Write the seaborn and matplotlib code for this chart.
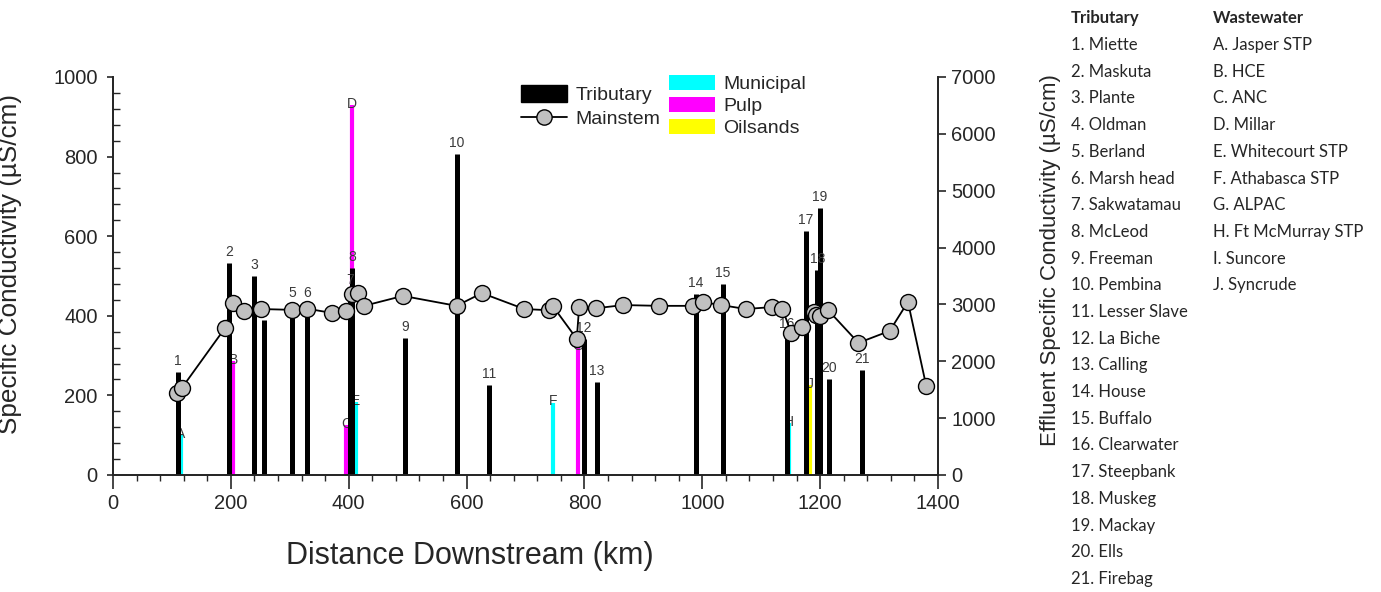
import matplotlib
matplotlib.use("Agg")
import matplotlib.pyplot as plt
from matplotlib.lines import Line2D
from matplotlib.patches import Patch
from matplotlib.ticker import MultipleLocator
import numpy as np
import pandas as pd
import seaborn as sns

# Mainstem specific conductivity (uS/cm) along the river
main_km = [109, 117, 190, 204, 222, 251, 303, 329, 372, 395, 406, 416, 426, 492,
           583, 626, 698, 740, 746, 787, 791, 820, 866, 927, 985, 1002, 1032, 1074,
           1119, 1136, 1151, 1169, 1189, 1193, 1200, 1213, 1265, 1318, 1349, 1380]
main_cond = [206, 219, 369, 432, 412, 417, 415, 418, 407, 412, 455, 457, 425, 450,
             425, 457, 417, 414, 425, 342, 422, 419, 427, 425, 425, 434, 427, 417,
             422, 417, 357, 372, 410, 402, 400, 415, 332, 362, 435, 224]

# Tributary conductivity (uS/cm) at confluence distance
trib_ids = [str(i) for i in range(1, 22)]
trib_km = [110, 197, 239, 256, 304, 329, 403, 406, 496, 584, 638, 799, 821, 989,
           1035, 1144, 1176, 1195, 1199, 1215, 1271]
trib_cond = [259, 533, 500, 389, 430, 430, 462, 520, 344, 806, 226, 342, 234, 455,
             480, 352, 613, 515, 671, 241, 264]
trib_names = ["Miette", "Maskuta", "Plante", "Oldman", "Berland", "Marsh head",
              "Sakwatamau", "McLeod", "Freeman", "Pembina", "Lesser Slave",
              "La Biche", "Calling", "House", "Buffalo", "Clearwater", "Steepbank",
              "Muskeg", "Mackay", "Ells", "Firebag"]

# Wastewater effluent conductivity (uS/cm, right axis)
eff_ids = ["A", "B", "C", "D", "E", "F", "G", "H", "I", "J"]
eff_km = [115, 204, 396, 406, 412, 747, 789, 1147, 1178, 1183]
eff_cond = [700, 2000, 880, 6500, 1280, 1270, 2250, 910, 1170, 1580]
eff_type = ["Municipal", "Pulp", "Pulp", "Pulp", "Municipal", "Municipal", "Pulp",
            "Municipal", "Oilsands", "Oilsands"]
eff_names = ["Jasper STP", "HCE", "ANC", "Millar", "Whitecourt STP",
             "Athabasca STP", "ALPAC", "Ft McMurray STP", "Suncore", "Syncrude"]

type_colors = {"Municipal": "#00FFFF", "Pulp": "#FF00FF", "Oilsands": "#FFFF00"}

sns.set_theme(style="ticks")
plt.rcParams["font.family"] = ["Liberation Sans", "DejaVu Sans"]

fig = plt.figure(figsize=(13.81, 5.92), dpi=100)
ax = fig.add_axes([113 / 1381, 117 / 592, 825 / 1381, 398 / 592])
ax2 = ax.twinx()
ax.set_zorder(ax2.get_zorder() + 1)
ax.patch.set_visible(False)

ax.set_xlim(0, 1400)
ax.set_ylim(0, 1000)
ax2.set_ylim(0, 7000)

label_color = "#3a3a3a"

# Effluent bars on the right axis
for k, v, t, lab in zip(eff_km, eff_cond, eff_type, eff_ids):
    ax2.vlines(k, 0, v, colors=type_colors[t], linewidth=3.0, zorder=2)
    ax2.annotate(lab, (k, v), xytext=(0, -4), textcoords="offset points",
                 ha="center", va="bottom", fontsize=10, color=label_color, zorder=3)

# Tributary bars on the left axis
for k, v, lab in zip(trib_km, trib_cond, trib_ids):
    ax.vlines(k, 0, v, colors="black", linewidth=3.6, zorder=2)
    ax.annotate(lab, (k, v), xytext=(0, 3), textcoords="offset points",
                ha="center", va="bottom", fontsize=10, color=label_color, zorder=3)

# Mainstem profile
main_df = pd.DataFrame({"km": main_km, "cond": main_cond})
sns.lineplot(data=main_df, x="km", y="cond", ax=ax, color="black", linewidth=1.3,
             marker="o", markersize=11.5, markerfacecolor="#C0C0C0",
             markeredgecolor="black", markeredgewidth=1.0, sort=False, zorder=4)

# Axes styling
ax.spines["top"].set_visible(False)
ax2.spines["top"].set_visible(False)
for sp in ["left", "bottom", "right"]:
    ax.spines[sp].set_linewidth(1.3)
    ax2.spines[sp].set_linewidth(1.3)

ax.xaxis.set_major_locator(MultipleLocator(200))
ax.xaxis.set_minor_locator(MultipleLocator(40))
ax.yaxis.set_major_locator(MultipleLocator(200))
ax.yaxis.set_minor_locator(MultipleLocator(40))
ax2.yaxis.set_major_locator(MultipleLocator(1000))

tick_size = 14.5
ax.tick_params(axis="x", which="major", direction="out", length=10, width=1.2,
               labelsize=tick_size, pad=4)
ax.tick_params(axis="x", which="minor", direction="out", length=4, width=1.0)
ax.tick_params(axis="y", which="major", direction="out", length=4, width=1.2,
               labelsize=tick_size, pad=7)
ax.tick_params(axis="y", which="minor", direction="in", length=5, width=1.0)
ax2.tick_params(axis="y", which="major", direction="out", length=6, width=1.2,
                labelsize=tick_size)

ax.set_xlabel("Distance Downstream (km)", fontsize=22)
ax.xaxis.set_label_coords((470 - 113) / 825, -0.165)
ax.set_ylabel("Specific Conductivity (\u00b5S/cm)", fontsize=18.8)
ax.yaxis.set_label_coords((22 - 113) / 825, 0.53)
ax2.set_ylabel("Effluent Specific Conductivity (\u00b5S/cm)", fontsize=16)
ax2.yaxis.set_label_coords((1040 - 113) / 825, 0.54)

# Legends
h1 = [Patch(facecolor="black", edgecolor="black", label="Tributary"),
      Line2D([0], [0], color="black", linewidth=1.3, marker="o", markersize=11,
             markerfacecolor="#C0C0C0", markeredgecolor="black", label="Mainstem")]
leg1 = ax.legend(handles=h1, loc="upper left",
                 bbox_to_anchor=((513 - 113) / 825, 1.0), frameon=False,
                 fontsize=14, handlelength=2.4, handleheight=1.0,
                 handletextpad=0.4, labelspacing=0.25, borderaxespad=0)
ax.add_artist(leg1)
h2 = [Patch(facecolor=type_colors[t], edgecolor="none", label=t)
      for t in ["Municipal", "Pulp", "Oilsands"]]
ax.legend(handles=h2, loc="upper left",
          bbox_to_anchor=((661 - 113) / 825, 1.025), frameon=False,
          fontsize=14, handlelength=2.4, handleheight=0.8,
          handletextpad=0.4, labelspacing=0.2, borderaxespad=0)

# Site key
key_font = ["Lato", "DejaVu Sans"]
key_size = 12
fig.text(1071 / 1381, 1 - 18 / 592, "Tributary", fontsize=key_size, fontweight="bold",
         family=key_font, va="center", ha="left")
fig.text(1213 / 1381, 1 - 18 / 592, "Wastewater", fontsize=key_size, fontweight="bold",
         family=key_font, va="center", ha="left")
for i, (n, name) in enumerate(zip(trib_ids, trib_names)):
    fig.text(1071 / 1381, 1 - (45 + 26.7 * i) / 592, f"{n}. {name}", fontsize=key_size,
             family=key_font, va="center", ha="left")
for i, (n, name) in enumerate(zip(eff_ids, eff_names)):
    fig.text(1213 / 1381, 1 - (45 + 26.7 * i) / 592, f"{n}. {name}", fontsize=key_size,
             family=key_font, va="center", ha="left")

fig.savefig("out.png", dpi=100)
